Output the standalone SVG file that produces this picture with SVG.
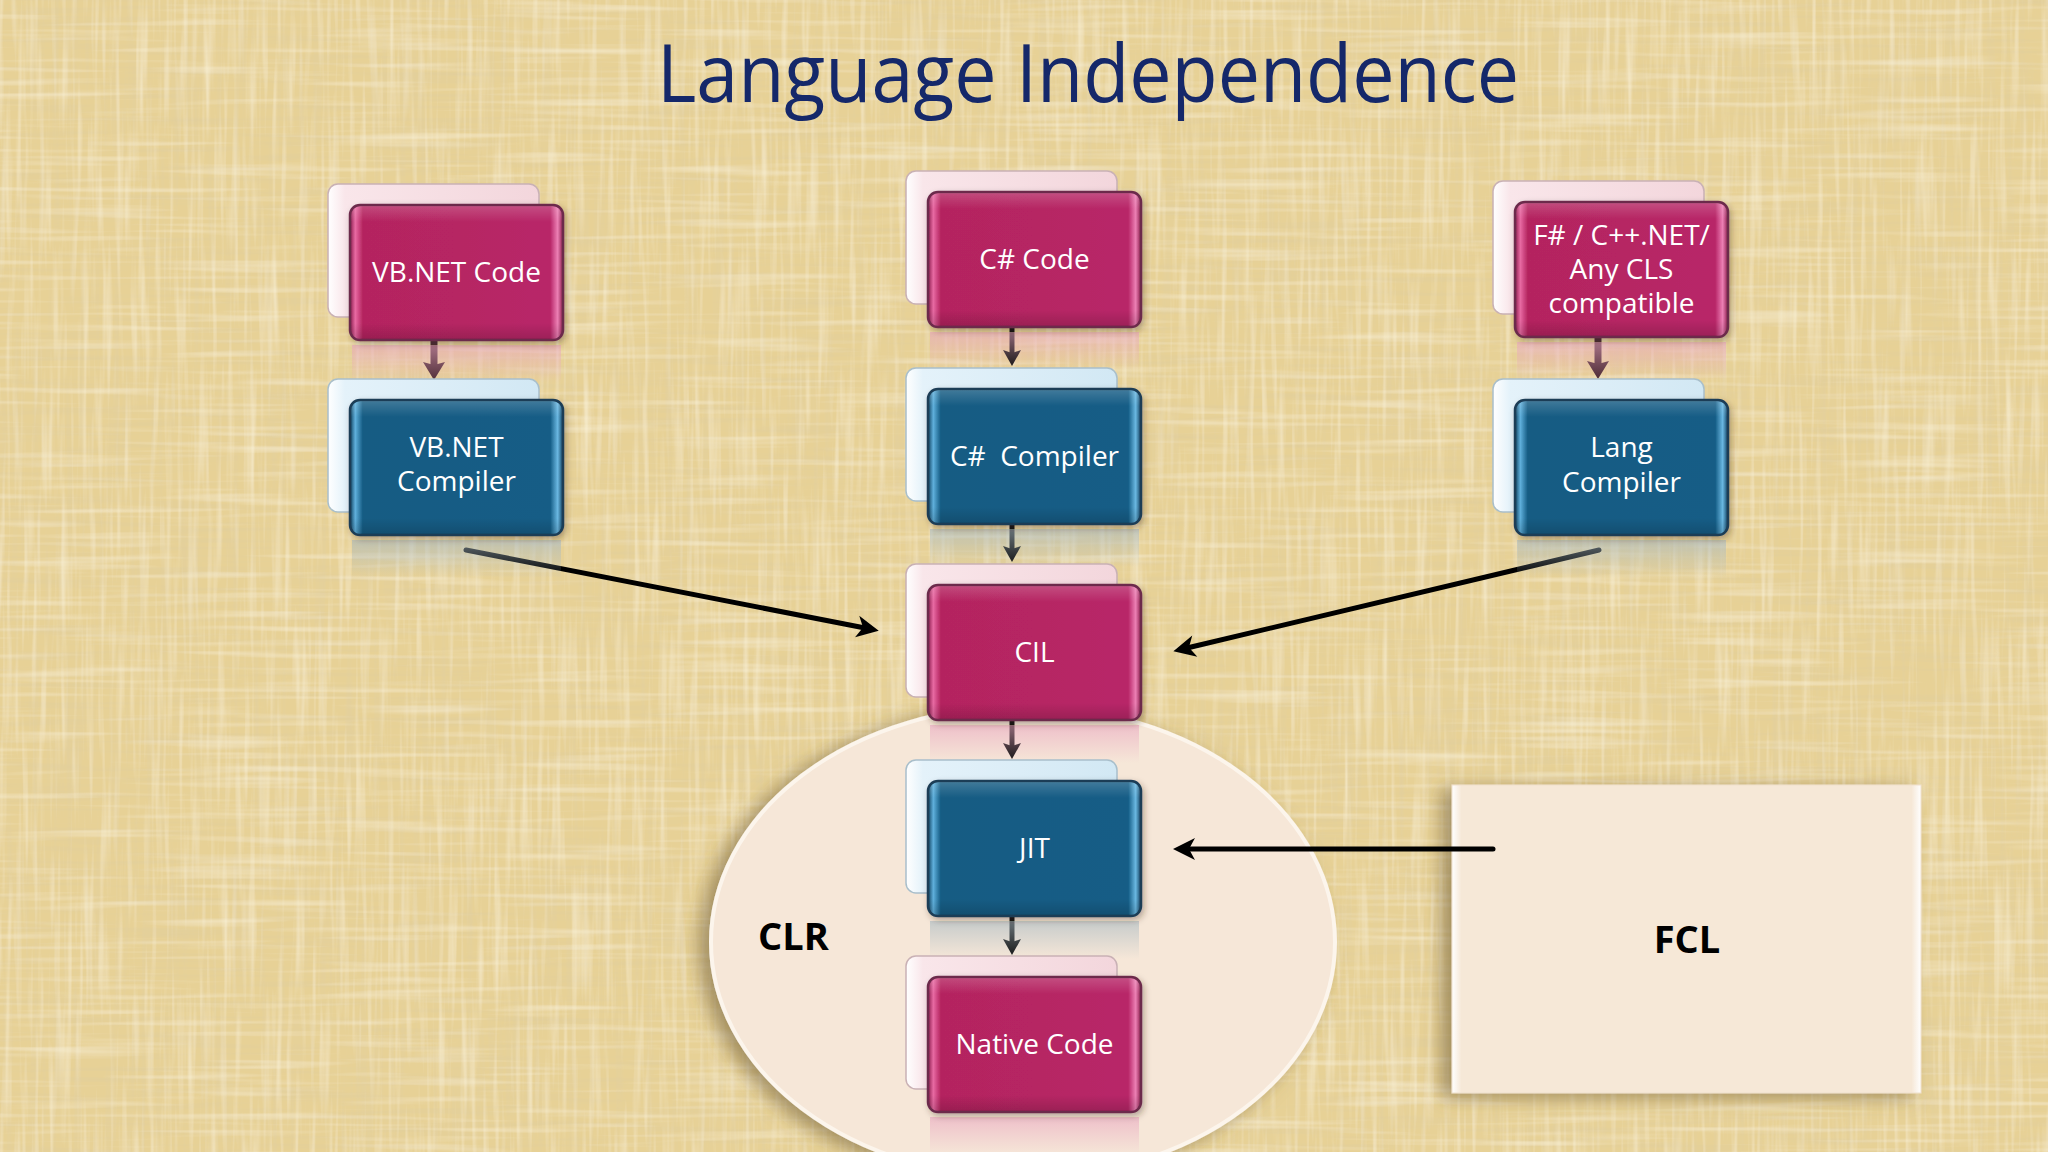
<svg xmlns="http://www.w3.org/2000/svg" width="2048" height="1152" viewBox="0 0 2048 1152">
<defs>
  <filter id="linen" x="0" y="0" width="2048" height="1152" filterUnits="userSpaceOnUse">
    <feFlood flood-color="#e7d196" result="base"/>
    <feTurbulence type="fractalNoise" baseFrequency="0.008 0.18" numOctaves="2" seed="7" result="n1"/>
    <feColorMatrix in="n1" type="matrix" values="0 0 0 0 0.72  0 0 0 0 0.60  0 0 0 0 0.34  1.1 0 0 0 -0.52" result="d1"/>
    <feTurbulence type="fractalNoise" baseFrequency="0.18 0.008" numOctaves="2" seed="11" result="n2"/>
    <feColorMatrix in="n2" type="matrix" values="0 0 0 0 0.98  0 0 0 0 0.92  0 0 0 0 0.74  1.1 0 0 0 -0.52" result="l1"/>
    <feTurbulence type="fractalNoise" baseFrequency="0.15 0.006" numOctaves="2" seed="23" result="n3"/>
    <feColorMatrix in="n3" type="matrix" values="0 0 0 0 0.74  0 0 0 0 0.62  0 0 0 0 0.36  1.1 0 0 0 -0.56" result="d2"/>
    <feTurbulence type="fractalNoise" baseFrequency="0.006 0.15" numOctaves="2" seed="31" result="n4"/>
    <feColorMatrix in="n4" type="matrix" values="0 0 0 0 0.98  0 0 0 0 0.93  0 0 0 0 0.76  1.1 0 0 0 -0.56" result="l2"/>
    <feMerge><feMergeNode in="base"/><feMergeNode in="d1"/><feMergeNode in="l1"/><feMergeNode in="d2"/><feMergeNode in="l2"/></feMerge>
  </filter>
  <filter id="shadow" x="-20%" y="-20%" width="140%" height="150%">
    <feDropShadow dx="2" dy="3" stdDeviation="3" flood-color="#3a2a20" flood-opacity="0.35"/>
  </filter>
  <filter id="bigshadow" x="-20%" y="-20%" width="140%" height="140%">
    <feDropShadow dx="-10" dy="4" stdDeviation="9" flood-color="#6a5530" flood-opacity="0.55"/>
  </filter>
  <linearGradient id="gMag" x1="0" y1="0" x2="1" y2="0">
    <stop offset="0" stop-color="#8a1b4b"/>
    <stop offset="0.025" stop-color="#e86aa3"/>
    <stop offset="0.06" stop-color="#b4245f"/>
    <stop offset="0.94" stop-color="#b82668"/>
    <stop offset="0.975" stop-color="#ec80b4"/>
    <stop offset="1" stop-color="#8a1b4b"/>
  </linearGradient>
  <linearGradient id="gBlue" x1="0" y1="0" x2="1" y2="0">
    <stop offset="0" stop-color="#0f3f5e"/>
    <stop offset="0.025" stop-color="#5fb0dc"/>
    <stop offset="0.06" stop-color="#135b83"/>
    <stop offset="0.94" stop-color="#145d86"/>
    <stop offset="0.975" stop-color="#6ab8e2"/>
    <stop offset="1" stop-color="#0f3f5e"/>
  </linearGradient>
  <linearGradient id="gTop" x1="0" y1="0" x2="0" y2="1">
    <stop offset="0" stop-color="#ffffff" stop-opacity="0.18"/>
    <stop offset="0.12" stop-color="#ffffff" stop-opacity="0"/>
    <stop offset="0.88" stop-color="#000000" stop-opacity="0"/>
    <stop offset="1" stop-color="#000000" stop-opacity="0.15"/>
  </linearGradient>
  <linearGradient id="gBackPink" x1="0" y1="0" x2="1" y2="0">
    <stop offset="0" stop-color="#ffffff"/>
    <stop offset="0.08" stop-color="#f9e6ea"/>
    <stop offset="1" stop-color="#f3d6dc"/>
  </linearGradient>
  <linearGradient id="gBackBlue" x1="0" y1="0" x2="1" y2="0">
    <stop offset="0" stop-color="#ffffff"/>
    <stop offset="0.08" stop-color="#e4f2fa"/>
    <stop offset="1" stop-color="#d2e8f4"/>
  </linearGradient>
  <linearGradient id="rMag" x1="0" y1="0" x2="0" y2="1">
    <stop offset="0" stop-color="#e9a6c0" stop-opacity="0.6"/>
    <stop offset="1" stop-color="#e9a6c0" stop-opacity="0"/>
  </linearGradient>
  <linearGradient id="rBlue" x1="0" y1="0" x2="0" y2="1">
    <stop offset="0" stop-color="#a7b9c2" stop-opacity="0.6"/>
    <stop offset="1" stop-color="#a7b9c2" stop-opacity="0"/>
  </linearGradient>
  <linearGradient id="gFcl" x1="0" y1="0" x2="1" y2="0">
    <stop offset="0" stop-color="#ffffff"/>
    <stop offset="0.02" stop-color="#f6e8d7"/>
    <stop offset="0.98" stop-color="#f6e8d7"/>
    <stop offset="1" stop-color="#ffffff"/>
  </linearGradient>
  <marker id="headBlack" viewBox="-2 -12 26 24" refX="8" refY="0" markerWidth="26" markerHeight="24" markerUnits="userSpaceOnUse" orient="auto">
    <path d="M0,-11 L22,0 L0,11 L6,0 z" fill="#000"/>
  </marker>
  <marker id="headV" viewBox="-1 -10 19 20" refX="3" refY="0" markerWidth="19" markerHeight="20" markerUnits="userSpaceOnUse" orient="auto">
    <path d="M0,-9 L16,0 L0,9 L3,0 z" fill="#111"/>
  </marker>
  <marker id="headB" viewBox="-1 -12 21 24" refX="3" refY="0" markerWidth="21" markerHeight="24" markerUnits="userSpaceOnUse" orient="auto">
    <path d="M0,-11 L18,0 L0,11 L3,0 z" fill="#4b2a34"/>
  </marker>
  <style>
    .back { stroke-width: 1.5; }
    .backP { fill: url(#gBackPink); stroke: #c9b1b5; }
    .backB { fill: url(#gBackBlue); stroke: #a9bfcb; }
    .frontM { fill: url(#gMag); stroke: #6c2c4c; stroke-width: 2.5; filter: url(#shadow); }
    .frontB { fill: url(#gBlue); stroke: #1d3d56; stroke-width: 2.5; filter: url(#shadow); }
    .gloss { fill: url(#gTop); }
    .reflM { fill: url(#rMag); }
    .reflB { fill: url(#rBlue); }
    .lbl { font-family: "Open Sans", "Liberation Sans", sans-serif; font-size: 28px; fill: #ffffff; text-anchor: middle; }
    .big { font-family: "Open Sans", "Liberation Sans", sans-serif; font-size: 38px; font-weight: bold; fill: #000000; }
    .conn { fill: none; stroke: #000; stroke-width: 5; stroke-linecap: round; }
    .vk { fill: none; stroke: #111; stroke-width: 5; }
    .vb { fill: none; stroke: #4b2a34; stroke-width: 7; }
  </style>
</defs>

<!-- background -->
<rect x="0" y="0" width="2048" height="1152" fill="#e7d196" filter="url(#linen)"/>

<!-- title -->
<text id="title" x="1088" y="102" font-family="'Open Sans', 'Liberation Sans', sans-serif" font-size="80" fill="#15286a" text-anchor="middle" textLength="862" lengthAdjust="spacingAndGlyphs">Language Independence</text>

<!-- CLR region -->
<g id="clr">
  <ellipse cx="1023" cy="942" rx="312" ry="236" fill="#f6e7d8" stroke="#fcf5ec" stroke-width="4" filter="url(#bigshadow)"/>
  <text class="big" x="758" y="950">CLR</text>
</g>

<!-- FCL -->
<g id="fcl">
  <rect x="1452" y="785" width="469" height="308" fill="url(#gFcl)" stroke="#efe0cc" stroke-width="1" filter="url(#bigshadow)"/>
  <text class="big" x="1687" y="953" text-anchor="middle">FCL</text>
</g>

<!-- connectors -->
<g id="connectors">
  <line class="vb" x1="434" y1="341" x2="434" y2="365" marker-end="url(#headB)"/>
  <line class="vb" x1="1598" y1="337" x2="1598" y2="364" marker-end="url(#headB)"/>
  <line class="vk" x1="1012" y1="327" x2="1012" y2="353" marker-end="url(#headV)"/>
  <line class="vk" x1="1012" y1="524" x2="1012" y2="549" marker-end="url(#headV)"/>
  <line class="vk" x1="1012" y1="720" x2="1012" y2="746" marker-end="url(#headV)"/>
  <line class="vk" x1="1012" y1="916" x2="1012" y2="942" marker-end="url(#headV)"/>
  <line class="conn" x1="466" y1="550" x2="865" y2="628" marker-end="url(#headBlack)"/>
  <line class="conn" x1="1599" y1="550" x2="1187" y2="648" marker-end="url(#headBlack)"/>
  <line class="conn" x1="1493" y1="849" x2="1187" y2="849" marker-end="url(#headBlack)"/>
</g>

<!-- nodes -->
<g id="vbcode" transform="translate(350,205)">
  <rect class="back backP" x="-22" y="-21" width="211" height="133" rx="10"/>
  <rect class="reflM" x="2" y="140" width="209" height="38"/>
  <rect class="frontM" x="0" y="0" width="213" height="135" rx="10"/>
  <rect class="gloss" x="1" y="1" width="211" height="133" rx="10"/>
  <text class="lbl" x="106.5" y="77">VB.NET Code</text>
</g>
<g id="vbcompiler" transform="translate(350,400)">
  <rect class="back backB" x="-22" y="-21" width="211" height="133" rx="10"/>
  <rect class="reflB" x="2" y="140" width="209" height="38"/>
  <rect class="frontB" x="0" y="0" width="213" height="135" rx="10"/>
  <rect class="gloss" x="1" y="1" width="211" height="133" rx="10"/>
  <text class="lbl" x="106.5" y="57">VB.NET</text>
  <text class="lbl" x="106.5" y="91">Compiler</text>
</g>
<g id="cscode" transform="translate(928,192)">
  <rect class="back backP" x="-22" y="-21" width="211" height="133" rx="10"/>
  <rect class="reflM" x="2" y="140" width="209" height="38"/>
  <rect class="frontM" x="0" y="0" width="213" height="135" rx="10"/>
  <rect class="gloss" x="1" y="1" width="211" height="133" rx="10"/>
  <text class="lbl" x="106.5" y="77">C# Code</text>
</g>
<g id="cscompiler" transform="translate(928,389)">
  <rect class="back backB" x="-22" y="-21" width="211" height="133" rx="10"/>
  <rect class="reflB" x="2" y="140" width="209" height="38"/>
  <rect class="frontB" x="0" y="0" width="213" height="135" rx="10"/>
  <rect class="gloss" x="1" y="1" width="211" height="133" rx="10"/>
  <text class="lbl" x="106.5" y="77" xml:space="preserve">C#  Compiler</text>
</g>
<g id="fscode" transform="translate(1515,202)">
  <rect class="back backP" x="-22" y="-21" width="211" height="133" rx="10"/>
  <rect class="reflM" x="2" y="140" width="209" height="38"/>
  <rect class="frontM" x="0" y="0" width="213" height="135" rx="10"/>
  <rect class="gloss" x="1" y="1" width="211" height="133" rx="10"/>
  <text class="lbl" x="106.5" y="43">F# / C++.NET/</text>
  <text class="lbl" x="106.5" y="77">Any CLS</text>
  <text class="lbl" x="106.5" y="111">compatible</text>
</g>
<g id="langcompiler" transform="translate(1515,400)">
  <rect class="back backB" x="-22" y="-21" width="211" height="133" rx="10"/>
  <rect class="reflB" x="2" y="140" width="209" height="38"/>
  <rect class="frontB" x="0" y="0" width="213" height="135" rx="10"/>
  <rect class="gloss" x="1" y="1" width="211" height="133" rx="10"/>
  <text class="lbl" x="106.5" y="57">Lang</text>
  <text class="lbl" x="106.5" y="92">Compiler</text>
</g>
<g id="cil" transform="translate(928,585)">
  <rect class="back backP" x="-22" y="-21" width="211" height="133" rx="10"/>
  <rect class="reflM" x="2" y="140" width="209" height="38"/>
  <rect class="frontM" x="0" y="0" width="213" height="135" rx="10"/>
  <rect class="gloss" x="1" y="1" width="211" height="133" rx="10"/>
  <text class="lbl" x="106.5" y="77">CIL</text>
</g>
<g id="jit" transform="translate(928,781)">
  <rect class="back backB" x="-22" y="-21" width="211" height="133" rx="10"/>
  <rect class="reflB" x="2" y="140" width="209" height="38"/>
  <rect class="frontB" x="0" y="0" width="213" height="135" rx="10"/>
  <rect class="gloss" x="1" y="1" width="211" height="133" rx="10"/>
  <text class="lbl" x="106.5" y="77">JIT</text>
</g>
<g id="native" transform="translate(928,977)">
  <rect class="back backP" x="-22" y="-21" width="211" height="133" rx="10"/>
  <rect class="reflM" x="2" y="140" width="209" height="38"/>
  <rect class="frontM" x="0" y="0" width="213" height="135" rx="10"/>
  <rect class="gloss" x="1" y="1" width="211" height="133" rx="10"/>
  <text class="lbl" x="106.5" y="77">Native Code</text>
</g>
</svg>
